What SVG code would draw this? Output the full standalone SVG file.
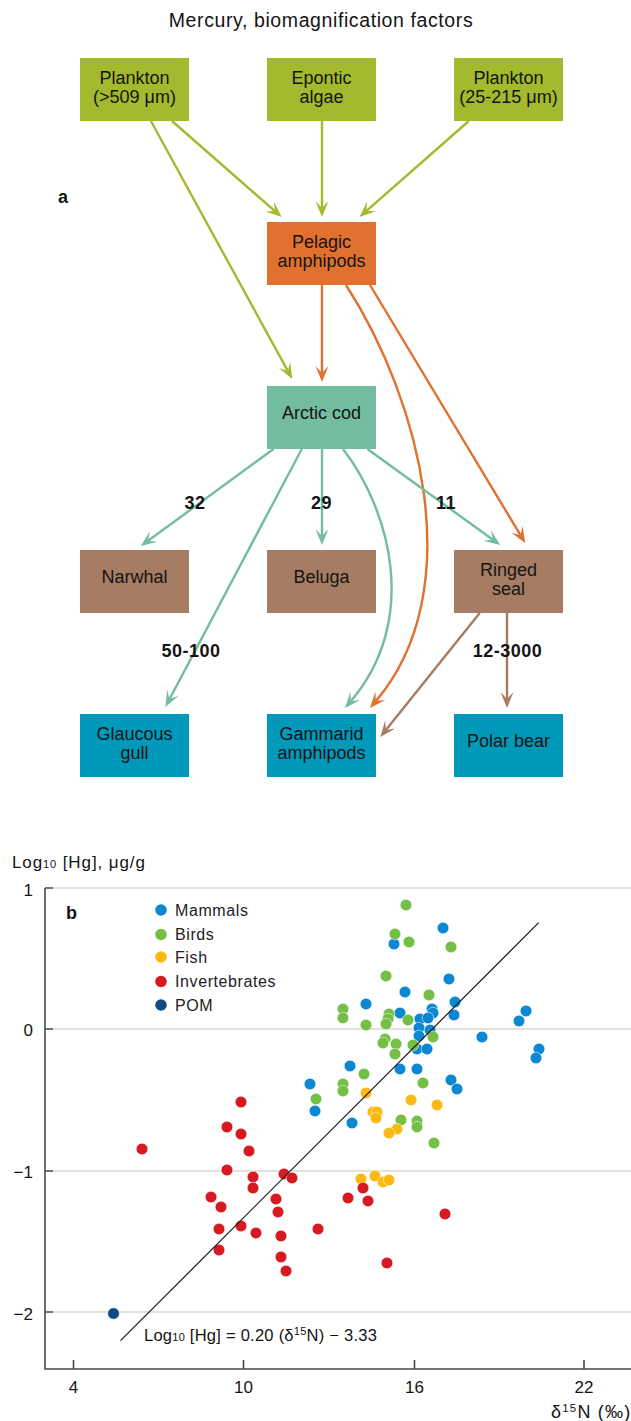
<svg xmlns="http://www.w3.org/2000/svg" width="631" height="1421" viewBox="0 0 631 1421">
<style>
text{font-family:"Liberation Sans",Arial,sans-serif;fill:#141414}
.bt{font-size:18px;text-anchor:middle}
.num{font-size:18px;font-weight:bold;text-anchor:middle;letter-spacing:0.5px}
.g{fill:#a3b92e}.o{fill:#e0712f}.t{fill:#73bc9f}.b{fill:#a67c62}.c{fill:#0099b9}
.lg{stroke:#a3b92e}.lo{stroke:#e0712f}.lt{stroke:#73bc9f}.lb{stroke:#a67c62}
.ln{fill:none;stroke-width:2.4}
.ax{font-size:17px}
.leg{font-size:16px;letter-spacing:0.6px;fill:#222}
.grid{stroke:#ddd6cd;stroke-width:1.6}
.axis{stroke:#4a4a4a;stroke-width:1.6;fill:none}
.m{fill:#0a88d2}.bd{fill:#74bf45}.f{fill:#fdb913}.iv{fill:#d71a22}.pom{fill:#0f4c81}
.pt circle{stroke:#fff;stroke-width:0.5}
</style>
<defs>
<marker id="mg" markerUnits="userSpaceOnUse" viewBox="-18 -10 20 20" markerWidth="20" markerHeight="20" refX="-9" refY="0" orient="auto" overflow="visible"><path d="M0,0 L-16,-6.5 L-9,0 L-16,6.5 Z" fill="#a3b92e"/></marker>
<marker id="mo" markerUnits="userSpaceOnUse" viewBox="-18 -10 20 20" markerWidth="20" markerHeight="20" refX="-9" refY="0" orient="auto" overflow="visible"><path d="M0,0 L-16,-6.5 L-9,0 L-16,6.5 Z" fill="#e0712f"/></marker>
<marker id="mt" markerUnits="userSpaceOnUse" viewBox="-18 -10 20 20" markerWidth="20" markerHeight="20" refX="-9" refY="0" orient="auto" overflow="visible"><path d="M0,0 L-16,-6.5 L-9,0 L-16,6.5 Z" fill="#73bc9f"/></marker>
<marker id="mb" markerUnits="userSpaceOnUse" viewBox="-18 -10 20 20" markerWidth="20" markerHeight="20" refX="-9" refY="0" orient="auto" overflow="visible"><path d="M0,0 L-16,-6.5 L-9,0 L-16,6.5 Z" fill="#a67c62"/></marker>
</defs>
<rect width="631" height="1421" fill="#fff"/>

<text x="321" y="27" style="font-size:19.5px;letter-spacing:0.6px" text-anchor="middle">Mercury, biomagnification factors</text>
<text x="58" y="203" style="font-size:18px;font-weight:bold">a</text>

<g id="connectors">
<path class="ln lg" marker-end="url(#mg)" d="M172,121 L274.9,211.1"/>
<path class="ln lg" marker-end="url(#mg)" d="M322,121 L322,208"/>
<path class="ln lg" marker-end="url(#mg)" d="M468.8,121 L366.2,211.1"/>
<path class="ln lg" marker-end="url(#mg)" d="M150.9,121 L287.9,371.1"/>
<path class="ln lo" marker-end="url(#mo)" d="M322,285 L322,373"/>
<path class="ln lo" marker-end="url(#mo)" d="M370,285 L520.6,535.3"/>
<path class="ln lo" marker-end="url(#mo)" d="M346,285 C420,400 470,590 375.8,701.1"/>
<path class="ln lt" marker-end="url(#mt)" d="M273.6,449 L148.1,540.7"/>
<path class="ln lt" marker-end="url(#mt)" d="M301.8,449 L169.6,699"/>
<path class="ln lt" marker-end="url(#mt)" d="M322,449 L322,536"/>
<path class="ln lt" marker-end="url(#mt)" d="M343,449 C390,510 420,620 350.8,701.2"/>
<path class="ln lt" marker-end="url(#mt)" d="M367.4,449 L492.9,539.7"/>
<path class="ln lb" marker-end="url(#mb)" d="M479.7,613 L385.9,730"/>
<path class="ln lb" marker-end="url(#mb)" d="M507,613 L507,699"/>
<text class="num" x="195" y="509">32</text>
<text class="num" x="321.5" y="509">29</text>
<text class="num" x="446" y="509">11</text>
<text class="num" x="191" y="657">50-100</text>
<text class="num" x="507.5" y="657">12-3000</text>
</g>

<g id="plankton-large"><rect class="g" x="80" y="58" width="109" height="63"/><text class="bt" x="134.5" y="84">Plankton</text><text class="bt" x="134.5" y="103">(&gt;509 μm)</text></g>
<g id="epontic-algae"><rect class="g" x="267" y="58" width="109" height="63"/><text class="bt" x="321.5" y="84">Epontic</text><text class="bt" x="321.5" y="103">algae</text></g>
<g id="plankton-small"><rect class="g" x="454" y="58" width="109" height="63"/><text class="bt" x="508.5" y="84">Plankton</text><text class="bt" x="508.5" y="103">(25-215 μm)</text></g>
<g id="pelagic-amphipods"><rect class="o" x="267" y="222" width="109" height="63"/><text class="bt" x="321.5" y="248">Pelagic</text><text class="bt" x="321.5" y="267">amphipods</text></g>
<g id="arctic-cod"><rect class="t" x="267" y="386" width="109" height="63"/><text class="bt" x="321.5" y="419">Arctic cod</text></g>
<g id="narwhal"><rect class="b" x="80" y="550" width="109" height="63"/><text class="bt" x="134.5" y="583">Narwhal</text></g>
<g id="beluga"><rect class="b" x="267" y="550" width="109" height="63"/><text class="bt" x="321.5" y="583">Beluga</text></g>
<g id="ringed-seal"><rect class="b" x="454" y="550" width="109" height="63"/><text class="bt" x="508.5" y="576">Ringed</text><text class="bt" x="508.5" y="595">seal</text></g>
<g id="glaucous-gull"><rect class="c" x="80" y="714" width="109" height="63"/><text class="bt" x="134.5" y="740">Glaucous</text><text class="bt" x="134.5" y="759">gull</text></g>
<g id="gammarid-amphipods"><rect class="c" x="267" y="714" width="109" height="63"/><text class="bt" x="321.5" y="740">Gammarid</text><text class="bt" x="321.5" y="759">amphipods</text></g>
<g id="polar-bear"><rect class="c" x="454" y="714" width="109" height="63"/><text class="bt" x="508.5" y="747">Polar bear</text></g>

<g id="plot">
<text x="12" y="868" style="font-size:17px;letter-spacing:0.9px">Log<tspan style="font-size:11px">10</tspan> [Hg], μg/g</text>
<line class="grid" x1="53" y1="888" x2="631" y2="888"/>
<line class="grid" x1="53" y1="1029" x2="631" y2="1029"/>
<line class="grid" x1="53" y1="1171" x2="631" y2="1171"/>
<line class="grid" x1="53" y1="1312" x2="631" y2="1312"/>
<path class="axis" d="M45,888 L45,1369 L631,1369 M45,888 L53,888 M45,1029 L53,1029 M45,1171 L53,1171 M45,1312 L53,1312 M73.5,1369 L73.5,1360 M243.5,1369 L243.5,1360 M414.5,1369 L414.5,1360 M584,1369 L584,1360"/>
<text class="ax" x="33" y="896" text-anchor="end">1</text>
<text class="ax" x="33" y="1036" text-anchor="end">0</text>
<text class="ax" x="33" y="1178" text-anchor="end">−1</text>
<text class="ax" x="33" y="1320" text-anchor="end">−2</text>
<text class="ax" x="73.5" y="1393" text-anchor="middle">4</text>
<text class="ax" x="243.5" y="1393" text-anchor="middle">10</text>
<text class="ax" x="414.5" y="1393" text-anchor="middle">16</text>
<text class="ax" x="584" y="1393" text-anchor="middle">22</text>
<text x="551" y="1418" style="font-size:18px;letter-spacing:1.2px">δ<tspan style="font-size:11.5px" dy="-6.5">15</tspan><tspan dy="6.5">N (‰)</tspan></text>
<text x="66" y="919" style="font-size:18px;font-weight:bold">b</text>

<circle class="m" cx="161" cy="910" r="5.8"/><text class="leg" x="175" y="916">Mammals</text>
<circle class="bd" cx="161" cy="934.5" r="5.8"/><text class="leg" x="175" y="940">Birds</text>
<circle class="f" cx="161" cy="957" r="5.8"/><text class="leg" x="175" y="963">Fish</text>
<circle class="iv" cx="161" cy="981.5" r="5.8"/><text class="leg" x="175" y="987">Invertebrates</text>
<circle class="pom" cx="161" cy="1005" r="5.8"/><text class="leg" x="175" y="1011">POM</text>

<g class="pt m">
<circle cx="443" cy="928" r="5.8"/><circle cx="394" cy="944" r="5.8"/><circle cx="449" cy="979" r="5.8"/><circle cx="405" cy="992" r="5.8"/><circle cx="366" cy="1004" r="5.8"/><circle cx="400" cy="1013" r="5.8"/><circle cx="455" cy="1002" r="5.8"/><circle cx="454" cy="1015" r="5.8"/><circle cx="432" cy="1009" r="5.8"/><circle cx="433" cy="1013" r="5.8"/><circle cx="420" cy="1019" r="5.8"/><circle cx="428" cy="1018" r="5.8"/><circle cx="419" cy="1028" r="5.8"/><circle cx="430" cy="1030" r="5.8"/><circle cx="419" cy="1036" r="5.8"/><circle cx="482" cy="1037" r="5.8"/><circle cx="526" cy="1011" r="5.8"/><circle cx="519" cy="1021" r="5.8"/><circle cx="539" cy="1049" r="5.8"/><circle cx="536" cy="1058" r="5.8"/><circle cx="417" cy="1049" r="5.8"/><circle cx="427" cy="1049" r="5.8"/><circle cx="350" cy="1066" r="5.8"/><circle cx="400" cy="1069" r="5.8"/><circle cx="417" cy="1069" r="5.8"/><circle cx="451" cy="1080" r="5.8"/><circle cx="457" cy="1089" r="5.8"/><circle cx="310" cy="1084" r="5.8"/><circle cx="315" cy="1111" r="5.8"/><circle cx="352" cy="1123" r="5.8"/>
</g>
<g class="pt bd">
<circle cx="406" cy="905" r="5.8"/><circle cx="395" cy="934" r="5.8"/><circle cx="409" cy="942" r="5.8"/><circle cx="451" cy="947" r="5.8"/><circle cx="386" cy="976" r="5.8"/><circle cx="429" cy="995" r="5.8"/><circle cx="343" cy="1009" r="5.8"/><circle cx="343" cy="1018" r="5.8"/><circle cx="389" cy="1014" r="5.8"/><circle cx="388" cy="1019" r="5.8"/><circle cx="386" cy="1024" r="5.8"/><circle cx="366" cy="1025" r="5.8"/><circle cx="408" cy="1020" r="5.8"/><circle cx="433" cy="1037" r="5.8"/><circle cx="385" cy="1039" r="5.8"/><circle cx="383" cy="1043" r="5.8"/><circle cx="396" cy="1044" r="5.8"/><circle cx="395" cy="1054" r="5.8"/><circle cx="413" cy="1045" r="5.8"/><circle cx="364" cy="1074" r="5.8"/><circle cx="423" cy="1083" r="5.8"/><circle cx="343" cy="1084" r="5.8"/><circle cx="343" cy="1091" r="5.8"/><circle cx="316" cy="1099" r="5.8"/><circle cx="401" cy="1120" r="5.8"/><circle cx="417" cy="1121" r="5.8"/><circle cx="417" cy="1127" r="5.8"/><circle cx="434" cy="1143" r="5.8"/>
</g>
<g class="pt f">
<circle cx="366" cy="1093" r="5.8"/><circle cx="411" cy="1100" r="5.8"/><circle cx="437" cy="1105" r="5.8"/><circle cx="373" cy="1112" r="5.8"/><circle cx="377" cy="1112" r="5.8"/><circle cx="376" cy="1118" r="5.8"/><circle cx="397" cy="1129" r="5.8"/><circle cx="389" cy="1133" r="5.8"/><circle cx="361" cy="1179" r="5.8"/><circle cx="375" cy="1176" r="5.8"/><circle cx="383" cy="1182" r="5.8"/><circle cx="389" cy="1180" r="5.8"/>
</g>
<g class="pt iv">
<circle cx="241" cy="1102" r="5.8"/><circle cx="227" cy="1127" r="5.8"/><circle cx="241" cy="1134" r="5.8"/><circle cx="142" cy="1149" r="5.8"/><circle cx="249" cy="1151" r="5.8"/><circle cx="227" cy="1170" r="5.8"/><circle cx="253" cy="1177" r="5.8"/><circle cx="253" cy="1188" r="5.8"/><circle cx="284" cy="1174" r="5.8"/><circle cx="292" cy="1178" r="5.8"/><circle cx="211" cy="1197" r="5.8"/><circle cx="221" cy="1207" r="5.8"/><circle cx="276" cy="1199" r="5.8"/><circle cx="278" cy="1212" r="5.8"/><circle cx="219" cy="1229" r="5.8"/><circle cx="241" cy="1226" r="5.8"/><circle cx="256" cy="1233" r="5.8"/><circle cx="281" cy="1236" r="5.8"/><circle cx="318" cy="1229" r="5.8"/><circle cx="219" cy="1250" r="5.8"/><circle cx="281" cy="1257" r="5.8"/><circle cx="286" cy="1271" r="5.8"/><circle cx="348" cy="1198" r="5.8"/><circle cx="363" cy="1188" r="5.8"/><circle cx="368" cy="1201" r="5.8"/><circle cx="445" cy="1214" r="5.8"/><circle cx="387" cy="1263" r="5.8"/>
</g>
<g class="pt pom"><circle cx="113.5" cy="1313.5" r="5.8"/></g>

<line x1="120.5" y1="1340.7" x2="538.7" y2="922.7" stroke="#1a1a1a" stroke-width="1.2"/>
<text x="144" y="1341" style="font-size:16.5px;letter-spacing:0.25px">Log<tspan style="font-size:11px">10</tspan> [Hg] = 0.20 (δ<tspan style="font-size:11px" dy="-6">15</tspan><tspan dy="6">N) − 3.33</tspan></text>
</g>
</svg>
